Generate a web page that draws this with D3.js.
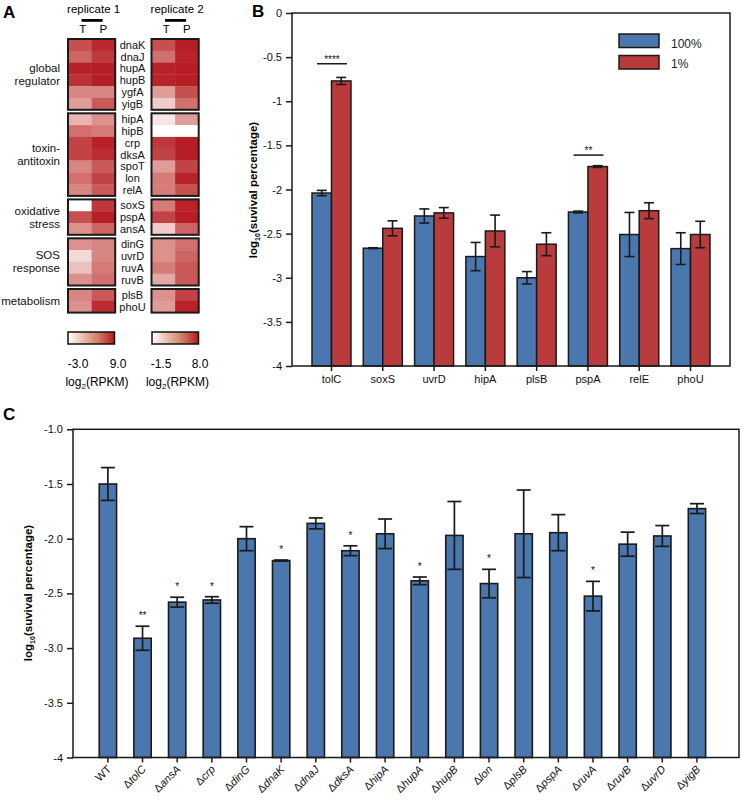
<!DOCTYPE html>
<html><head><meta charset="utf-8">
<script src="https://cdn.jsdelivr.net/npm/d3@7"></script>
<style>body{margin:0;background:#fff} svg{display:block;font-family:"Liberation Sans",Arial,sans-serif}</style>
</head><body><svg id="c" width="742" height="802"></svg>
<script>
// ---------- Panel A data ----------
const heatGenes = ["dnaK","dnaJ","hupA","hupB","ygfA","yigB","hipA","hipB","crp","dksA","spoT","lon","relA","soxS","pspA","ansA","dinG","uvrD","ruvA","ruvB","plsB","phoU"];
const heatGroups = [["global","regulator"],["toxin-","antitoxin"],["oxidative","stress"],["SOS","response"],["metabolism"]];
const groupSizes = [6,7,3,4,2];
const rep1T = [6.0,4.8,8.4,7.6,3.0,1.8,0.6,4.2,6.6,6.6,3.0,4.2,3.0,-3.0,6.0,2.4,2.4,-1.2,0.0,2.4,3.0,2.4];
const rep1P = [8.0,7.2,8.6,8.6,3.0,5.4,2.4,3.6,8.4,7.8,5.4,6.6,5.4,7.2,8.6,4.8,3.0,3.0,3.6,4.2,5.4,7.8];
const rep2T = [5.6,4.2,7.5,7.5,2.3,0.4,-0.55,-1.5,6.6,6.1,2.3,3.7,3.7,3.7,6.1,0.4,2.8,2.8,3.7,1.8,2.8,2.3];
const rep2P = [7.7,7.5,7.7,7.7,5.6,4.2,2.3,-1.5,7.7,7.7,6.1,7.5,5.6,7.5,7.7,4.7,4.2,4.7,5.2,5.2,6.1,7.5];
const rep1Domain = [-3, 9], rep2Domain = [-1.5, 8];
const rep1Labels = ["-3.0","9.0"], rep2Labels = ["-1.5","8.0"];

// ---------- Panel B data ----------
const bGenes = ["tolC","soxS","uvrD","hipA","plsB","pspA","relE","phoU"];
const bSeries = ["100%","1%"];
const b100 = [-2.04,-2.665,-2.30,-2.76,-3.00,-2.255,-2.51,-2.67];
const b100Err = [0.03,0.005,0.08,0.16,0.07,0.01,0.25,0.18];
const b1 = [-0.77,-2.44,-2.265,-2.47,-2.62,-1.74,-2.24,-2.51];
const b1Err = [0.04,0.085,0.06,0.18,0.13,0.01,0.09,0.15];
const bTicks = [0,-0.5,-1,-1.5,-2,-2.5,-3,-3.5,-4];
const bSigGenes = ["tolC","pspA"], bSigLabels = ["****","**"], bSigLevels = [-0.575,-1.61];

// ---------- Panel C data ----------
const cStrains = ["WT","tolC","ansA","crp","dinG","dnaK","dnaJ","dksA","hipA","hupA","hupB","lon","plsB","pspA","ruvA","ruvB","uvrD","yigB"];
const cVals = [-1.5,-2.91,-2.58,-2.56,-2.0,-2.2,-1.86,-2.11,-1.955,-2.385,-1.97,-2.41,-1.955,-1.945,-2.525,-2.05,-1.975,-1.725];
const cErr  = [0.15,0.11,0.045,0.03,0.11,0.005,0.05,0.045,0.135,0.035,0.31,0.13,0.40,0.165,0.135,0.11,0.095,0.045];
const cStars = ["","**","*","*","","*","","*","","*","","*","","","*","","",""];
const cTicks = [-1,-1.5,-2,-2.5,-3,-3.5,-4];
const cTickLabels = ["-1.0","-1.5","-2.0","-2.5","-3.0","-3.5","-4"];

const BLUE = "#4a78ae", RED = "#ba3b3b";
const svg = d3.select("#c");

// ================= Panel A =================
svg.append("text").attr("x",3).attr("y",18).attr("font-size",17).attr("font-weight","bold").text("A");
const interp = d3.interpolateRgbBasis(["#ffffff","#e4aaa6","#cc625f","#b4161e"]);
const sc1 = d3.scaleSequential(interp).domain(rep1Domain);
const sc2 = d3.scaleSequential(interp).domain(rep2Domain);
const rowH = 11.8, gap = 3.5, top0 = 39, cellW = 23.6;
const repX = [68, 151.5];
const groupOf = [];
groupSizes.forEach((n,g)=>{for(let i=0;i<n;i++) groupOf.push(g);});
const rowY = heatGenes.map((d,i)=> top0 + i*rowH + groupOf[i]*gap);
const cols = [[rep1T,sc1,0],[rep1P,sc1,1],[rep2T,sc2,2],[rep2P,sc2,3]];
const A = svg.append("g");
cols.forEach(([vals,sc,ci])=>{
  const x = repX[Math.floor(ci/2)] + (ci%2)*cellW;
  A.selectAll(null).data(vals).enter().append("rect")
    .attr("x",x).attr("y",(d,i)=>rowY[i]).attr("width",cellW+0.3).attr("height",rowH+0.3)
    .attr("fill",d=>sc(d));
});
let start = 0;
groupSizes.forEach((n,g)=>{
  const y0 = rowY[start], y1 = rowY[start+n-1]+rowH;
  repX.forEach(x=>{
    A.append("rect").attr("x",x).attr("y",y0).attr("width",cellW*2).attr("height",y1-y0)
      .attr("fill","none").attr("stroke","#1a1a1a").attr("stroke-width",2);
  });
  const lines = heatGroups[g];
  const cy = (y0+y1)/2;
  const t = A.append("text").attr("text-anchor","end").attr("font-size",11.5).attr("fill","#111");
  lines.forEach((l,k)=>{
    t.append("tspan").attr("x",60).attr("y",cy + 4 + (k-(lines.length-1)/2)*13).text(l);
  });
  start += n;
});
A.selectAll(null).data(heatGenes).enter().append("text")
  .attr("x",132.5).attr("y",(d,i)=>rowY[i]+rowH/2+3.9).attr("text-anchor","middle")
  .attr("font-size",11).attr("fill","#111").text(d=>d);
[["replicate 1",repX[0]],["replicate 2",repX[1]]].forEach(([lab,x])=>{
  A.append("text").attr("x",x+cellW+2).attr("y",13).attr("text-anchor","middle").attr("font-size",11.5).text(lab);
  A.append("rect").attr("x",x+cellW-10).attr("y",19).attr("width",21).attr("height",2.8).attr("fill","#000");
  A.append("text").attr("x",x+cellW/2+3).attr("y",32.5).attr("text-anchor","middle").attr("font-size",11.5).text("T");
  A.append("text").attr("x",x+cellW*1.5).attr("y",32.5).attr("text-anchor","middle").attr("font-size",11.5).text("P");
});
const defs = svg.append("defs");
const lg = defs.append("linearGradient").attr("id","cbar");
const legInterp = d3.interpolateRgbBasis(["#ffffff","#e8bca3","#cf7e63","#b5171f"]);
d3.range(0,1.0001,0.1).forEach(t=>lg.append("stop").attr("offset",t).attr("stop-color",legInterp(t)));
[[repX[0],rep1Labels,78,118,97],[repX[1]+0.5,rep2Labels,161,200,177.5]].forEach(([x,labs,lx1,lx2,cx])=>{
  A.append("rect").attr("x",x).attr("y",332).attr("width",46.5).attr("height",12)
    .attr("fill","url(#cbar)").attr("stroke","#111").attr("stroke-width",1.5);
  A.append("text").attr("x",lx1).attr("y",368).attr("text-anchor","middle").attr("font-size",12).text(labs[0]);
  A.append("text").attr("x",lx2).attr("y",368).attr("text-anchor","middle").attr("font-size",12).text(labs[1]);
  const t = A.append("text").attr("x",cx).attr("y",386).attr("text-anchor","middle").attr("font-size",12);
  t.append("tspan").text("log");
  t.append("tspan").attr("font-size",8).attr("dy",3).text("2");
  t.append("tspan").attr("dy",-3).text("(RPKM)");
});

// ================= Panel B =================
svg.append("text").attr("x",252).attr("y",17).attr("font-size",17).attr("font-weight","bold").text("B");
const B = svg.append("g");
const bx = d3.scaleBand().domain(bGenes).range([292,730]).paddingInner(0.24).paddingOuter(0.39);
const bs = d3.scaleBand().domain(bSeries).range([0,bx.bandwidth()]);
const by = d3.scaleLinear().domain([-4,0]).range([366,13]);
const bData = bGenes.flatMap((g,i)=>[
  {g, s:"100%", v:b100[i], e:b100Err[i], c:BLUE},
  {g, s:"1%", v:b1[i], e:b1Err[i], c:RED}]);
B.selectAll(null).data(bData).enter().append("rect")
  .attr("x",d=>bx(d.g)+bs(d.s)).attr("width",bs.bandwidth())
  .attr("y",d=>by(d.v)).attr("height",d=>by(-4)-by(d.v))
  .attr("fill",d=>d.c).attr("stroke","#1a1a1a").attr("stroke-width",1.5);
const bErr = B.selectAll(null).data(bData).enter().append("g").attr("stroke","#1a1a1a").attr("stroke-width",1.6);
bErr.append("line").attr("x1",d=>bx(d.g)+bs(d.s)+bs.bandwidth()/2).attr("x2",d=>bx(d.g)+bs(d.s)+bs.bandwidth()/2)
  .attr("y1",d=>by(d.v+d.e)).attr("y2",d=>by(d.v-d.e));
[1,-1].forEach(sgn=>{
  bErr.append("line").attr("x1",d=>bx(d.g)+bs(d.s)+bs.bandwidth()/2-5).attr("x2",d=>bx(d.g)+bs(d.s)+bs.bandwidth()/2+5)
    .attr("y1",d=>by(d.v+sgn*d.e)).attr("y2",d=>by(d.v+sgn*d.e));
});
B.append("rect").attr("x",292).attr("y",13).attr("width",730-292).attr("height",366-13)
  .attr("fill","none").attr("stroke","#1a1a1a").attr("stroke-width",1.5);
const bya = B.append("g").attr("transform","translate(292,0)")
  .call(d3.axisLeft(by).tickValues(bTicks).tickFormat(d=>String(d)).tickSize(6).tickSizeOuter(0));
bya.select(".domain").remove();
bya.selectAll("line").attr("stroke","#1a1a1a").attr("stroke-width",1.5);
bya.selectAll("text").attr("font-size",11).attr("font-family","Liberation Sans, Arial").attr("fill","#111").attr("x",-10);
const bxa = B.append("g").attr("transform","translate(0,366)")
  .call(d3.axisBottom(bx).tickSize(5).tickSizeOuter(0));
bxa.select(".domain").remove();
bxa.selectAll("line").attr("stroke","#1a1a1a").attr("stroke-width",1.5);
bxa.selectAll("text").attr("font-size",11).attr("font-family","Liberation Sans, Arial").attr("fill","#111").attr("y",9);
const bl = B.append("text").attr("transform","translate(257,190) rotate(-90)").attr("text-anchor","middle")
  .attr("font-size",11.5).attr("font-weight","bold");
bl.append("tspan").text("log");
bl.append("tspan").attr("font-size",7).attr("dy",3).text("10");
bl.append("tspan").attr("dy",-3).text("(suvival percentage)");
bSigGenes.forEach((g,i)=>{
  const x0 = bx(g)+5, x1 = bx(g)+bx.bandwidth()-4, y = by(bSigLevels[i]);
  B.append("line").attr("x1",x0).attr("x2",x1).attr("y1",y).attr("y2",y).attr("stroke","#1a1a1a").attr("stroke-width",1.5);
  B.append("text").attr("x",(x0+x1)/2).attr("y",y-1).attr("text-anchor","middle").attr("font-size",10).attr("fill","#111").text(bSigLabels[i]);
});
bSeries.forEach((s,i)=>{
  B.append("rect").attr("x",619).attr("y",34+i*21.5).attr("width",40).attr("height",13.5)
    .attr("fill",i===0?BLUE:RED).attr("stroke","#1a1a1a").attr("stroke-width",1.5);
  B.append("text").attr("x",671).attr("y",47.5+i*20).attr("font-size",12).attr("fill","#222").text(s);
});

// ================= Panel C =================
svg.append("text").attr("x",3).attr("y",420).attr("font-size",17).attr("font-weight","bold").text("C");
const C = svg.append("g");
const cx = d3.scaleBand().domain(cStrains).range([73,739]).paddingInner(0.5).paddingOuter(0.86).align(0.44);
const cy = d3.scaleLinear().domain([-4,-1]).range([757.5,429.3]);
C.selectAll(null).data(cStrains).enter().append("rect")
  .attr("x",d=>cx(d)).attr("width",cx.bandwidth())
  .attr("y",(d,i)=>cy(cVals[i])).attr("height",(d,i)=>cy(-4)-cy(cVals[i]))
  .attr("fill",BLUE).attr("stroke","#1a1a1a").attr("stroke-width",1.6);
const cE = C.selectAll(null).data(cStrains).enter().append("g").attr("stroke","#1a1a1a").attr("stroke-width",1.7);
const ccx = d=>cx(d)+cx.bandwidth()/2;
cE.append("line").attr("x1",ccx).attr("x2",ccx).attr("y1",(d,i)=>cy(cVals[i]+cErr[i])).attr("y2",(d,i)=>cy(cVals[i]-cErr[i]));
[1,-1].forEach(sgn=>{
  cE.append("line").attr("x1",d=>ccx(d)-7).attr("x2",d=>ccx(d)+7)
    .attr("y1",(d,i)=>cy(cVals[i]+sgn*cErr[i])).attr("y2",(d,i)=>cy(cVals[i]+sgn*cErr[i]));
});
C.selectAll(null).data(cStrains).enter().append("text")
  .attr("x",ccx).attr("y",(d,i)=>cy(cVals[i]+cErr[i])-7).attr("text-anchor","middle").attr("font-size",10)
  .attr("fill","#111").text((d,i)=>cStars[i]);
C.append("rect").attr("x",73).attr("y",429.3).attr("width",739-73).attr("height",757.5-429.3)
  .attr("fill","none").attr("stroke","#1a1a1a").attr("stroke-width",1.5);
const cya = C.append("g").attr("transform","translate(73,0)")
  .call(d3.axisLeft(cy).tickValues(cTicks).tickFormat((d,i)=>cTickLabels[i]).tickSize(6).tickSizeOuter(0));
cya.select(".domain").remove();
cya.selectAll("line").attr("stroke","#1a1a1a").attr("stroke-width",1.5);
cya.selectAll("text").attr("font-size",11).attr("font-family","Liberation Sans, Arial").attr("fill","#111").attr("x",-10);
const cxa = C.append("g").attr("transform","translate(0,757.5)")
  .call(d3.axisBottom(cx).tickSize(5).tickSizeOuter(0).tickFormat(""));
cxa.select(".domain").remove();
cxa.selectAll("line").attr("stroke","#1a1a1a").attr("stroke-width",1.5);
C.selectAll(null).data(cStrains).enter().append("text")
  .attr("transform",d=>`translate(${ccx(d)+4},${770}) rotate(-45)`)
  .attr("text-anchor","end").attr("font-size",11).attr("fill","#111")
  .each(function(d){
    const t = d3.select(this);
    if(d==="WT"){t.text(d);return;}
    t.append("tspan").text("Δ");
    t.append("tspan").attr("font-style","italic").text(d);
  });
const cl = C.append("text").attr("transform","translate(32,593) rotate(-90)").attr("text-anchor","middle")
  .attr("font-size",11.5).attr("font-weight","bold");
cl.append("tspan").text("log");
cl.append("tspan").attr("font-size",7).attr("dy",3).text("10");
cl.append("tspan").attr("dy",-3).text("(suvival percentage)");
</script></body></html>
